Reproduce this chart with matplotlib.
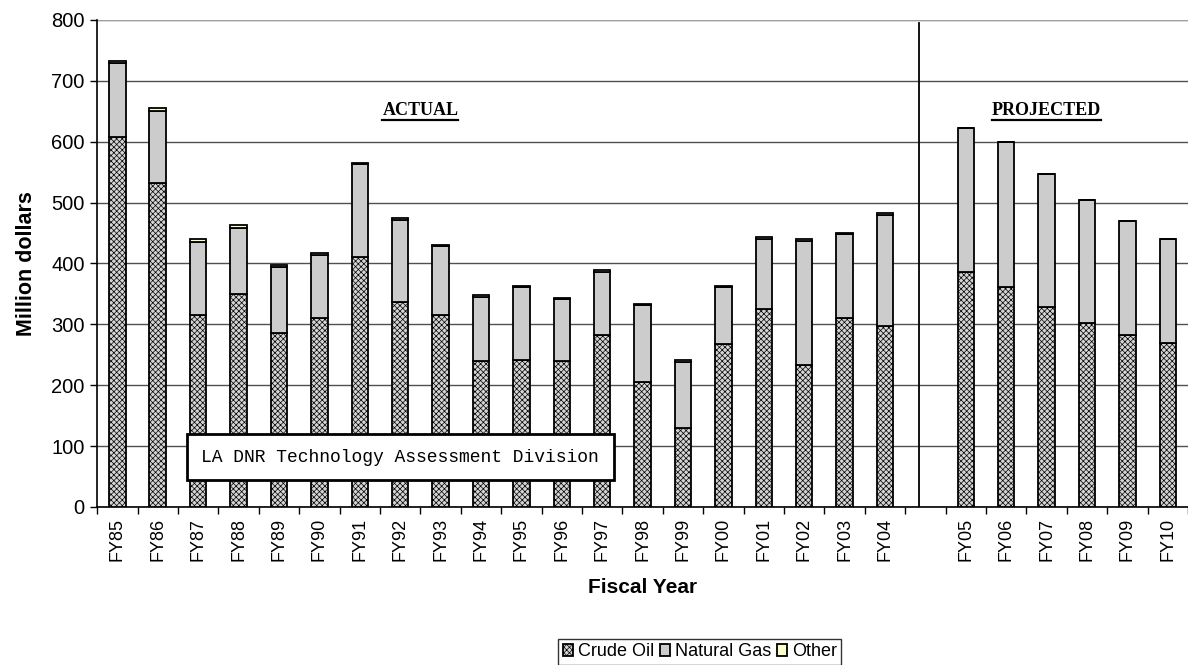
import numpy as np
import matplotlib.pyplot as plt
import matplotlib as mpl

# Louisiana mineral revenue by fiscal year (million dollars)
years = ['FY85', 'FY86', 'FY87', 'FY88', 'FY89', 'FY90', 'FY91', 'FY92', 'FY93', 'FY94',
         'FY95', 'FY96', 'FY97', 'FY98', 'FY99', 'FY00', 'FY01', 'FY02', 'FY03', 'FY04',
         'FY05', 'FY06', 'FY07', 'FY08', 'FY09', 'FY10']
crude = [607, 532, 316, 350, 285, 310, 411, 337, 316, 240,
         242, 240, 282, 205, 130, 268, 325, 233, 311, 297,
         386, 362, 328, 302, 282, 270]
gas = [122, 119, 120, 109, 109, 104, 153, 135, 112, 105,
       120, 102, 104, 126, 108, 94, 115, 204, 138, 183,
       236, 238, 219, 202, 187, 171]
other = [4, 4, 4, 4, 3, 3, 1, 3, 3, 3,
         1, 1, 3, 3, 3, 1, 3, 3, 1, 3,
         0, 0, 0, 0, 0, 0]

mpl.rcParams['font.family'] = ['Liberation Sans', 'DejaVu Sans']
mpl.rcParams['hatch.linewidth'] = 0.5
mpl.rcParams['hatch.color'] = '#404040'

# actual years at 0..19, gap, projected at 21..26
pos = np.array(list(range(20)) + list(range(21, 27)))
crude = np.array(crude)
gas = np.array(gas)
other = np.array(other)

fig = plt.figure(figsize=(11.88, 6.65), dpi=100)
ax = fig.add_axes([0.0818, 0.2376, 1 - 0.0818, 0.7324])

w = 0.41
b1 = ax.bar(pos, crude, w, color='#d4d4d4', hatch='xxxxxx', edgecolor='black', linewidth=1.3, label='Crude Oil', zorder=3)
b2 = ax.bar(pos, gas, w, bottom=crude, color='#cccccc', edgecolor='black', linewidth=1.3, label='Natural Gas', zorder=3)
b3 = ax.bar(pos, other, w, bottom=crude + gas, color='#ffffcc', edgecolor='black', linewidth=1.3, label='Other', zorder=3)

ax.set_xlim(-0.5, 26.36)
ax.set_ylim(0, 800)
ax.set_yticks(range(0, 801, 100))
ax.yaxis.grid(True, color='#505050', linewidth=1)
ax.axhline(800, color='#a0a0a0', linewidth=1.5)
ax.set_axisbelow(True)

ax.set_xticks(pos)
ax.set_xticklabels(years, rotation=90, fontsize=13)
ax.set_xticks(np.arange(-0.5, 26.6, 1), minor=True)
ax.tick_params(axis='x', which='major', length=0, pad=8)
ax.tick_params(axis='x', which='minor', length=5, direction='out', width=1)
ax.tick_params(axis='y', labelsize=14.5, length=5, direction='out', width=1, pad=4)

for s in ['top', 'right']:
    ax.spines[s].set_visible(False)
ax.spines['left'].set_linewidth(1.2)
ax.spines['bottom'].set_linewidth(1.2)

ax.set_ylabel('Million dollars', fontsize=15.5, fontweight='bold', labelpad=10)
ax.set_xlabel('Fiscal Year', fontsize=15, fontweight='bold', labelpad=12)

# divider between actual and projected
ax.plot([19.85, 19.85], [0, 795], color='black', linewidth=1.3, zorder=4)

t1 = ax.text(7.5, 652, 'ACTUAL', ha='center', va='center', fontsize=13,
             fontweight='bold', family='Liberation Serif')
t2 = ax.text(23.0, 652, 'PROJECTED', ha='center', va='center', fontsize=13,
             fontweight='bold', family='Liberation Serif')

ax.text(7.0, 82, 'LA DNR Technology Assessment Division', ha='center', va='center',
        fontsize=13, family='Liberation Mono', zorder=6,
        bbox=dict(boxstyle='square,pad=0.8', facecolor='white', edgecolor='black', linewidth=2))

# underline the two headings
fig.canvas.draw()
r = fig.canvas.get_renderer()
for t in [t1, t2]:
    bb = t.get_window_extent(renderer=r).transformed(ax.transData.inverted())
    ax.plot([bb.x0, bb.x1], [bb.y0 - 2, bb.y0 - 2], color='black', linewidth=1.6)

leg = fig.legend(handles=[b1, b2, b3], loc='lower center', bbox_to_anchor=(0.589, -0.005),
                 ncol=3, frameon=True, fancybox=False, edgecolor='black', fontsize=13,
                 handlelength=0.6, handleheight=0.6, handletextpad=0.25, columnspacing=0.3,
                 borderpad=0.25, borderaxespad=0.2)
leg.get_frame().set_linewidth(1)

fig.savefig('out.png', dpi=100)
